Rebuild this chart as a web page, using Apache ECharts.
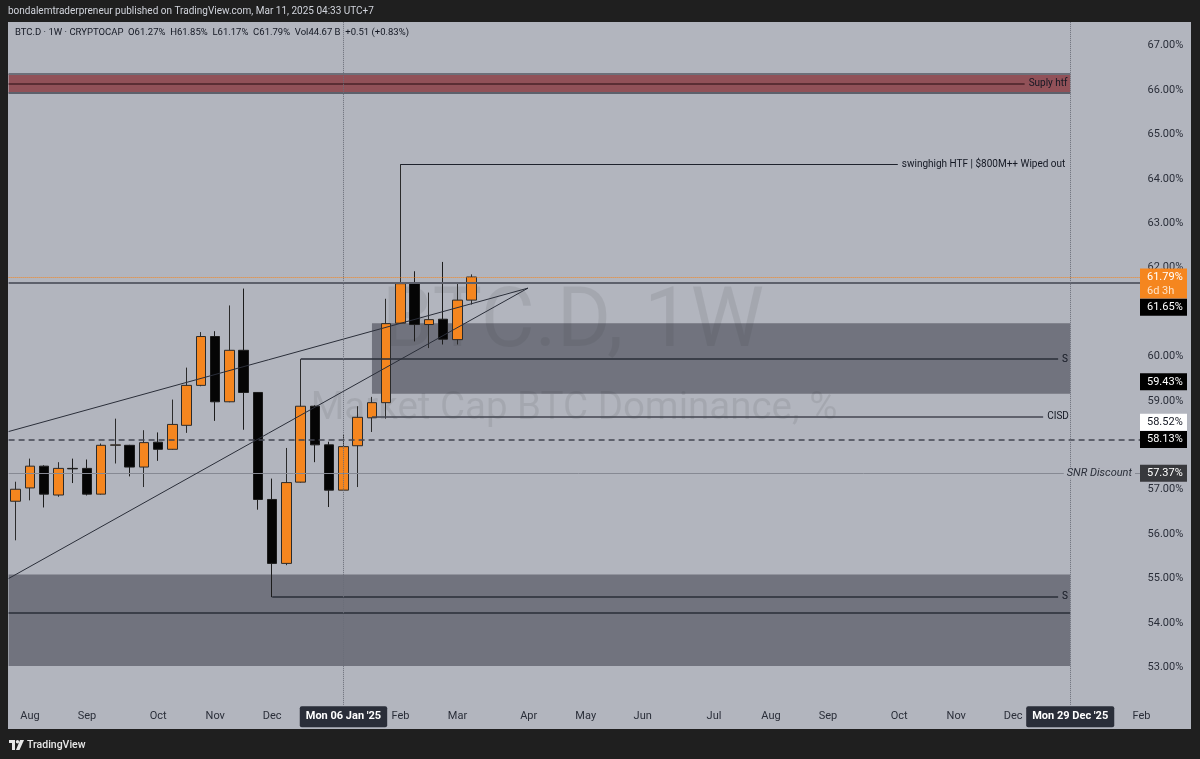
<!DOCTYPE html>
<html><head><meta charset="utf-8">
<script src="https://cdn.jsdelivr.net/npm/echarts@6/dist/echarts.min.js"></script>
<style>html,body{margin:0;padding:0;background:#1f1f1f;}#c{width:1200px;height:759px;}</style>
</head><body><div id="c"></div>
<script>
// ---------- DATA ----------
const firstWeekUTC = Date.UTC(2024, 6, 29);   // Mon 29 Jul 2024
const weekCount = 80;                          // visible weekly slots
const candleOpen  = [56.74,57.04,57.53,56.88,57.48,57.48,56.90,58.00,58.00,57.51,58.07,57.91,58.45,59.35,60.45,58.98,60.14,59.19,56.78,55.34,57.17,58.88,58.01,56.99,57.99,58.62,58.96,60.75,61.66,60.72,60.84,60.38,61.27];
const candleClose = [57.01,57.53,56.90,57.48,57.47,56.90,58.00,58.01,57.51,58.06,57.91,58.47,59.35,60.45,58.98,60.14,59.19,56.78,55.34,57.16,58.88,58.01,56.99,57.97,58.63,58.96,60.74,61.64,60.72,60.83,60.39,61.27,61.79];
const candleLow   = [55.86,56.76,56.60,56.84,57.15,56.87,56.89,57.59,57.30,57.06,57.65,57.90,58.28,59.33,58.55,58.97,58.35,56.55,54.58,55.30,57.16,57.62,56.61,56.98,57.06,58.30,58.60,60.74,60.34,60.19,60.27,60.27,61.17];
const candleHigh  = [57.18,57.70,57.55,57.62,57.70,57.68,58.04,58.60,58.01,58.34,58.29,59.03,59.75,60.55,60.57,61.15,61.53,59.20,57.25,57.94,59.94,58.90,58.08,58.24,58.88,59.09,61.30,64.33,61.92,61.44,62.13,61.64,61.85];
const monthTicks = {
  '2024-08-05':'Aug','2024-09-02':'Sep','2024-10-07':'Oct','2024-11-04':'Nov','2024-12-02':'Dec',
  '2025-01-06':"Mon 06 Jan '25",'2025-02-03':'Feb','2025-03-03':'Mar','2025-04-07':'Apr','2025-05-05':'May',
  '2025-06-02':'Jun','2025-07-07':'Jul','2025-08-04':'Aug','2025-09-01':'Sep','2025-10-06':'Oct',
  '2025-11-03':'Nov','2025-12-01':'Dec','2025-12-29':"Mon 29 Dec '25",'2026-02-02':'Feb'
};
const crosshairDates = ['2025-01-06','2025-12-29'];
const crosshairWeeks = [23, 74];
const yMin = 52, yMax = 68, yStep = 1, yShownMin = 53, yShownMax = 67;
// zones [top, bottom, fromWeek, toWeek]
const supplyZone = [66.36, 65.93, -0.5, 74];
const upperBox   = [60.75, 59.16, 25, 74];
const lowerZone  = [55.09, 53.03, -0.5, 74];
// annotated levels [value, fromWeek, toWeek, text]
const supplyMid  = [66.15, -0.5, 70.8, 'Suply htf'];
const swingHigh  = [64.33, 27, 61.9, 'swinghigh HTF | $800M++ Wiped out'];
const sUpper     = [59.94, 20, 73.15, 'S'];
const cisd       = [58.64, 25, 72.1, 'CISD'];
const sLower     = [54.60, 18, 73.15, 'S'];
const lowerMid   = [54.22, -0.5, 74];
const lastClose  = 61.79;
const keyLevel   = 61.65;
const dashLevel  = 58.13;
const snrLevel   = 57.37;
// trendlines [[week, value],[week, value]]
const trendUpper = [[-0.5, 58.31], [35.95, 61.54]];
const trendLower = [[-0.5, 55.00], [35.95, 61.54]];
// price tags on the scale
const tagValues = [61.79, 61.65, 59.43, 58.52, 58.13, 57.37];
const tagExtra  = ['6d 3h', '', '', '', '', ''];
const tagKinds  = ['orange', 'black', 'black', 'white', 'black', 'dark'];
const header1 = 'bondalemtraderpreneur published on TradingView.com, Mar 11, 2025 04:33 UTC+7';
const header2 = 'BTC.D \u00b7 1W \u00b7 CRYPTOCAP  O61.27%  H61.85%  L61.17%  C61.79%  Vol44.67 B  +0.51 (+0.83%)';

// ---------- BUILD ----------
const categories = [];
for (let k = 0; k < weekCount; k++) {
  categories.push(new Date(firstWeekUTC + k * 7 * 86400000).toISOString().slice(0, 10));
}
const ohlc = candleOpen.map((o, i) => [o, candleClose[i], candleLow[i], candleHigh[i]]);

const FONT = 'Roboto, "Noto Sans", sans-serif';
const ORANGE = '#f5861f';
const tagStyle = {
  orange: {bg: ORANGE, fg: '#ffffff', fg2: '#ffe2c6', shift: 0},
  black:  {bg: '#000000', fg: '#ffffff', shift: 0},
  white:  {bg: '#ffffff', fg: '#131722', shift: 0},
  dark:   {bg: '#38393d', fg: '#ffffff', shift: 0}
};
const tagShift = [0, 24, 0, 0, 0, 0];

function hLine(v, x0, x1, style, label) {
  const a = {coord: [x0, v], lineStyle: style};
  if (label) a.label = {show: true, position: 'end', distance: 4, formatter: label, color: '#131722', fontSize: 10, fontFamily: FONT};
  return [a, {coord: [x1, v]}];
}

const chart = echarts.init(document.getElementById('c'));
const option = {
  backgroundColor: '#1f1f1f',
  animation: false,
  grid: {left: 8.6, right: 51.4, top: 1.3, bottom: 47.3},
  graphic: {elements: [
    {type: 'rect', z: -10, shape: {x: 8, y: 22, width: 1183, height: 707}, style: {fill: '#b2b5be'}},
    {type: 'text', z: -5, x: 573, y: 325, style: {text: 'BTC.D, 1W', font: '83px ' + FONT, fill: 'rgba(0,0,0,0.075)', align: 'center', verticalAlign: 'middle'}},
    {type: 'text', z: -5, x: 574, y: 409, style: {text: 'Market Cap BTC Dominance, %', font: '38.5px ' + FONT, fill: 'rgba(0,0,0,0.075)', align: 'center', verticalAlign: 'middle'}},
    {type: 'text', z: 5, x: 8, y: 11, style: {text: header1, font: '10px ' + FONT, fill: '#d1d4dc', verticalAlign: 'middle'}},
    {type: 'text', z: 5, x: 15, y: 33, style: {text: header2, font: '9.5px ' + FONT, fill: '#131722', verticalAlign: 'middle'}},
    {type: 'rect', z: 5, shape: {x: 9, y: 740, width: 6, height: 3}, style: {fill: '#e8e8e8'}},
    {type: 'rect', z: 5, shape: {x: 12, y: 740, width: 3, height: 10}, style: {fill: '#e8e8e8'}},
    {type: 'circle', z: 5, shape: {cx: 17.5, cy: 741.8, r: 1.7}, style: {fill: '#e8e8e8'}},
    {type: 'polygon', z: 5, shape: {points: [[20, 740], [24, 740], [19.5, 750], [16, 750]]}, style: {fill: '#e8e8e8'}},
    {type: 'text', z: 5, x: 27, y: 745.5, style: {text: 'TradingView', font: '500 10.5px ' + FONT, fill: '#e8e8e8', verticalAlign: 'middle'}}
  ]},
  xAxis: [
    {type: 'category', data: categories, boundaryGap: true,
     axisLine: {show: false}, axisTick: {show: false}, splitLine: {show: false},
     axisLabel: {
       interval: (idx, val) => monthTicks[val] !== undefined,
       formatter: (val) => crosshairDates.indexOf(val) >= 0 ? '{ch|' + monthTicks[val] + '}' : (monthTicks[val] || ''),
       color: '#2a2e39', fontSize: 11, fontFamily: FONT, margin: 5, verticalAlign: 'middle',
       rich: {ch: {backgroundColor: '#2a2e39', color: '#ffffff', fontWeight: 'bold', fontSize: 11, fontFamily: FONT, padding: [5, 6, 5, 6], borderRadius: 2}}
     }},
    {type: 'value', min: -0.5, max: weekCount - 0.5, show: false, splitLine: {show: false}}
  ],
  yAxis: {type: 'value', position: 'right', min: yMin, max: yMax, interval: yStep, scale: true,
    axisLine: {show: false}, axisTick: {show: false}, splitLine: {show: false},
    axisLabel: {margin: -1, color: '#2a2e39', fontSize: 11, fontFamily: FONT,
      formatter: (v) => (v < yShownMin || v > yShownMax) ? '' : v.toFixed(2) + '%'}},
  series: [
    {type: 'candlestick', xAxisIndex: 0, z: 2, barWidth: 10, data: ohlc,
     itemStyle: {color: ORANGE, color0: '#050505', borderColor: '#2b2b2b', borderColor0: '#1c1c1c', borderWidth: 1}},
    {type: 'line', xAxisIndex: 1, data: [], z: 3, silent: true,
     markArea: {silent: true, label: {show: false}, data: [
       [{coord: [supplyZone[2], supplyZone[0]], itemStyle: {color: '#915158'}}, {coord: [supplyZone[3], supplyZone[1]]}],
       [{coord: [upperBox[2], upperBox[0]], itemStyle: {color: 'rgba(48,50,62,0.5)'}}, {coord: [upperBox[3], upperBox[1]]}],
       [{coord: [lowerZone[2], lowerZone[0]], itemStyle: {color: 'rgba(48,50,62,0.5)'}}, {coord: [lowerZone[3], lowerZone[1]]}]
     ]}},
    {type: 'line', xAxisIndex: 1, data: [], z: 4, silent: true,
     markLine: {silent: true, symbol: ['none', 'none'], label: {show: false}, lineStyle: {color: '#2a2e39', width: 1, type: 'solid'}, data: [
       hLine(supplyZone[0], supplyZone[2], supplyZone[3], {color: '#6d6f79', width: 2, type: 'solid'}),
       hLine(supplyZone[1], supplyZone[2], supplyZone[3], {color: '#5d606b', width: 2, type: 'solid'}),
       hLine(supplyMid[0], supplyMid[1], supplyMid[2], {color: '#4a2328', width: 1.5, type: 'solid'}, supplyMid[3]),
       hLine(swingHigh[0], swingHigh[1], swingHigh[2], {color: '#1e222d', width: 1, type: 'solid'}, swingHigh[3]),
       hLine(sUpper[0], sUpper[1], sUpper[2], {color: '#2a2e39', width: 1.5, type: 'solid'}, sUpper[3]),
       hLine(cisd[0], cisd[1], cisd[2], {color: '#434651', width: 1.5, type: 'solid'}, cisd[3]),
       hLine(sLower[0], sLower[1], sLower[2], {color: '#2a2e39', width: 1.5, type: 'solid'}, sLower[3]),
       hLine(lowerMid[0], lowerMid[1], lowerMid[2], {color: '#2a2e39', width: 1.5, type: 'solid'}),
       hLine(keyLevel, -0.5, weekCount - 0.5, {color: '#5d606b', width: 2, type: 'solid'}),
       hLine(lastClose, -0.5, weekCount - 0.5, {color: ORANGE, width: 1, type: 'dotted'}),
       hLine(dashLevel, -0.5, weekCount - 0.5, {color: '#434651', width: 1.5, type: [6, 4]}),
       hLine(snrLevel, -0.5, weekCount - 0.5, {color: '#868993', width: 1, type: 'solid'}),
       [{coord: trendUpper[0], lineStyle: {color: '#2a2e39', width: 1}}, {coord: trendUpper[1]}],
       [{coord: trendLower[0], lineStyle: {color: '#2a2e39', width: 1}}, {coord: trendLower[1]}],
       [{coord: [crosshairWeeks[0], 67.53], lineStyle: {color: '#6a6d78', width: 1, type: 'dotted'}}, {coord: [crosshairWeeks[0], 52.15]}],
       [{coord: [crosshairWeeks[1], 67.53], lineStyle: {color: '#6a6d78', width: 1, type: 'dotted'}}, {coord: [crosshairWeeks[1], 52.15]}]
     ]}},
    {type: 'custom', xAxisIndex: 1, z: 10, clip: false, silent: true,
     data: tagValues.map((v, i) => [weekCount - 0.5, v, i]).concat([[weekCount - 0.5, snrLevel, -1]]),
     renderItem: function (params, api) {
       const i = api.value(2);
       const y0 = api.coord([api.value(0), api.value(1)])[1];
       if (i < 0) {
         return {type: 'text', style: {text: 'SNR Discount', x: 1135, y: y0, align: 'right', verticalAlign: 'middle',
           font: 'italic 11px ' + FONT, fill: '#2a2e39', backgroundColor: '#b2b5be', padding: [0, 3, 0, 3]}};
       }
       const st = tagStyle[tagKinds[i]];
       const y = y0 + tagShift[i];
       const txt = api.value(1).toFixed(2) + '%';
       const two = tagExtra[i] !== '';
       const children = [
         {type: 'rect', shape: {x: 1140, y: y - 8.5, width: 47, height: two ? 30 : 17}, style: {fill: st.bg}},
         {type: 'text', style: {text: txt, x: 1147, y: y, align: 'left', verticalAlign: 'middle', font: '11px ' + FONT, fill: st.fg}}
       ];
       if (two) children.push({type: 'text', style: {text: tagExtra[i], x: 1147, y: y + 14, align: 'left', verticalAlign: 'middle', font: '11px ' + FONT, fill: st.fg2}});
       return {type: 'group', children: children};
     }}
  ]
};
chart.setOption(option);
</script></body></html>
